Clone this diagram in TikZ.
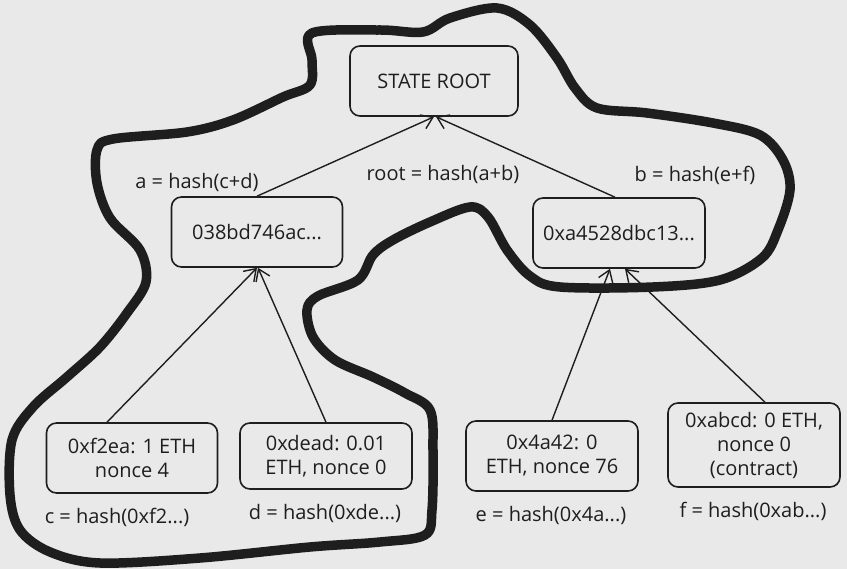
\documentclass[tikz,border=0pt]{standalone}
\usepackage{fontspec}
\setmainfont{Open Sans}
\usetikzlibrary{arrows.meta}
\definecolor{paper}{RGB}{233,233,233}
\definecolor{ink}{RGB}{30,30,30}
\tikzset{
	hashbox/.style={draw=ink, line width=1.6pt, rounded corners=10pt, minimum width=172pt, minimum height=70pt, align=center, text=ink, font=\fontsize{20}{24}\selectfont},
	hashlabel/.style={text=ink, font=\fontsize{20}{24}\selectfont},
	uparrow/.style={draw=ink, line width=1.4pt, -{Straight Barb[length=11pt,width=15pt,line width=1.4pt]}},
	blob/.style={draw=ink, line width=9.5pt, line join=round}
}
\begin{document}
\begin{tikzpicture}[x=1pt, y=-1pt]
		\useasboundingbox[fill=paper] (0, 0) rectangle (847, 569);
		% outline round the proof path
		\draw[blob] plot[smooth cycle, tension=0.55] coordinates {
			(312,33) (380,30) (423,32) (450,18) (497,8) (530,25) (557,58) (575,88)
			(597,108) (647,113) (713,123) (760,135) (783,160) (790,190) (778,230)
			(762,258) (720,280) (653,287) (560,287) (530,276) (507,250) (488,217)
			(470,207) (430,222) (393,240) (373,255) (358,280) (318,296) (307,310)
			(313,337) (335,360) (373,377) (405,393) (430,410) (433,450) (432,510)
			(425,535) (380,542) (310,547) (200,558) (100,563) (50,552) (20,530)
			(10,495) (12,440) (33,407) (67,377) (100,347) (127,313) (146,282)
			(140,250) (110,218) (97,183) (97,150) (113,139) (187,132) (233,120)
			(283,97) (310,85) (312,60)};
		% tree
		\node[hashbox, minimum width=168pt] (root) at (434, 81) {STATE ROOT};
		\node[hashbox, minimum width=171pt] (ha) at (257, 232) {038bd746ac...};
		\node[hashbox] (hb) at (619, 233) {0xa4528dbc13...};
		\node[hashbox, minimum width=171pt] (acc c) at (132, 458) {0xf2ea: 1 ETH\\nonce 4};
		\node[hashbox, minimum height=66pt] (acc d) at (326, 456) {0xdead: 0.01\\ETH, nonce 0};
		\node[hashbox] (acc e) at (552, 456) {0x4a42: 0\\ETH, nonce 76};
		\node[hashbox, minimum height=84pt] (acc f) at (754, 445) {0xabcd: 0 ETH,\\nonce 0\\(contract)};
		% labels
		\node[hashlabel] (la) at (197, 182) {a = hash(c+d)};
		\node[hashlabel] (lroot) at (443, 174) {root = hash(a+b)};
		\node[hashlabel] (lb) at (695, 175) {b = hash(e+f)};
		\node[hashlabel] (lc) at (117, 517) {c = hash(0xf2...)};
		\node[hashlabel] (ld) at (325, 513) {d = hash(0xde...)};
		\node[hashlabel] (le) at (551, 515) {e = hash(0x4a...)};
		\node[hashlabel] (lf) at (753, 511) {f = hash(0xab...)};
		% arrows
		\draw[uparrow] (ha.north) -- (root.south);
		\draw[uparrow] ([xshift=-4pt]hb.north) -- ([xshift=2pt]root.south);
		\draw[uparrow] ([xshift=-25pt]acc c.north) -- (ha.south);
		\draw[uparrow] (acc d.north) -- ([xshift=1pt]ha.south);
		\draw[uparrow] (acc e.north) -- ([xshift=-9pt]hb.south);
		\draw[uparrow] ([xshift=11pt]acc f.north) -- ([xshift=6pt]hb.south);
	\end{tikzpicture}
\end{document}
